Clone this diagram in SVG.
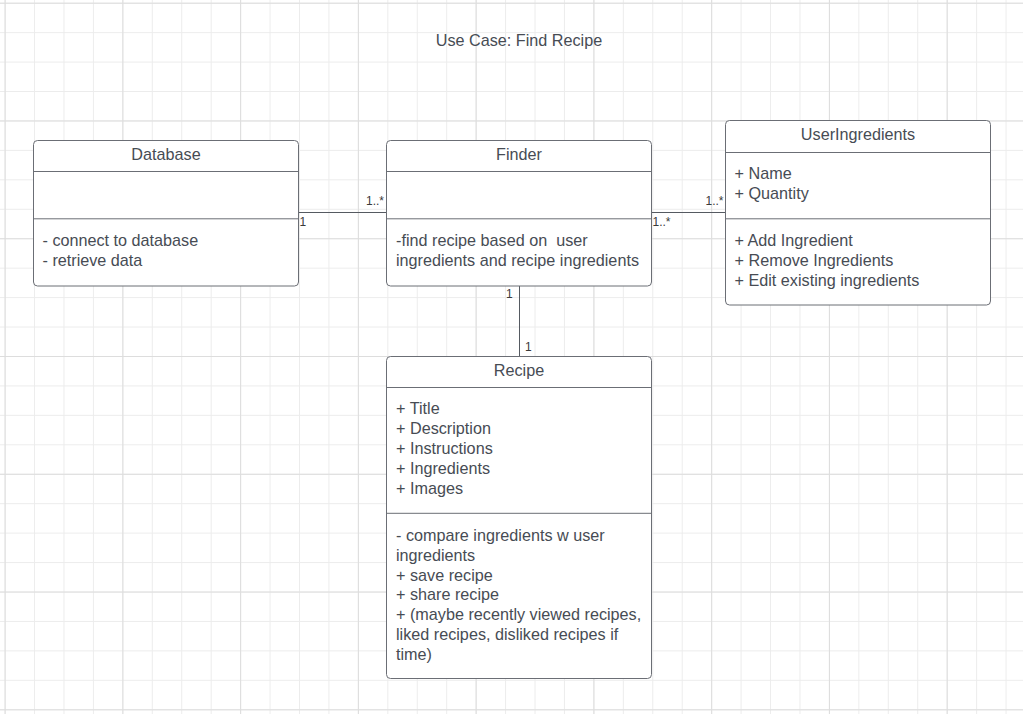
<svg xmlns="http://www.w3.org/2000/svg" width="1023" height="714" viewBox="0 0 1023 714">
<defs>
<pattern id="minor" x="4.6" y="2.7" width="29.44" height="29.44" patternUnits="userSpaceOnUse">
<path d="M0.5 0V29.44M0 0.5H29.44" fill="none" stroke="#ececec" stroke-width="1"/>
</pattern>
<pattern id="major" x="4.6" y="2.7" width="117.76" height="117.77" patternUnits="userSpaceOnUse">
<path d="M0.5 0V117.77M0 0.5H117.76" fill="none" stroke="#dddddd" stroke-width="1"/>
</pattern>
<style>
.box{fill:#ffffff;stroke:#6b6e75;stroke-width:1}
.div{stroke:#6b6e75;stroke-width:1}
.t{font-family:"Liberation Sans",Arial,sans-serif;font-size:16.2px;fill:#474c54}
.c{text-anchor:middle}
.lbl{font-family:"Liberation Sans",Arial,sans-serif;font-size:12px;fill:#3a3a3a}
.conn{stroke:#555a61;stroke-width:1;fill:none}
</style>
</defs>
<rect width="1023" height="714" fill="#ffffff"/>
<rect width="1023" height="714" fill="url(#minor)"/>
<rect width="1023" height="714" fill="url(#major)"/>
<text class="t c" x="519" y="46">Use Case: Find Recipe</text>
<g id="connectors">
<line class="conn" x1="298.5" y1="212.5" x2="386.5" y2="212.5"/>
<line class="conn" x1="651.5" y1="212.5" x2="725.5" y2="212.5"/>
<line class="conn" x1="519.5" y1="286" x2="519.5" y2="356.5"/>
<text class="lbl" x="299.5" y="225.5">1</text>
<text class="lbl" x="366" y="205">1..*</text>
<text class="lbl" x="652.5" y="225.5">1..*</text>
<text class="lbl" x="705.5" y="205">1..*</text>
<text class="lbl" x="506" y="297.5">1</text>
<text class="lbl" x="525" y="350.5">1</text>
</g>
<g id="database">
<rect class="box" x="33.5" y="140.5" width="265" height="145.5" rx="4"/>
<line class="div" x1="33.5" y1="171.5" x2="298.5" y2="171.5"/>
<line class="div" x1="33.5" y1="218.8" x2="298.5" y2="218.8"/>
<text class="t c" x="166" y="159.5">Database</text>
<text class="t" x="42.5" y="246">- connect to database</text>
<text class="t" x="42.5" y="266">- retrieve data</text>
</g>
<g id="finder">
<rect class="box" x="386.5" y="140.5" width="265" height="145.5" rx="4"/>
<line class="div" x1="386.5" y1="171.5" x2="651.5" y2="171.5"/>
<line class="div" x1="386.5" y1="218.8" x2="651.5" y2="218.8"/>
<text class="t c" x="519" y="159.5">Finder</text>
<text class="t" x="396" y="246" xml:space="preserve">-find recipe based on  user</text>
<text class="t" x="396" y="266">ingredients and recipe ingredients</text>
</g>
<g id="useringredients">
<rect class="box" x="725.5" y="120.5" width="265" height="184.5" rx="4"/>
<line class="div" x1="725.5" y1="152.5" x2="990.5" y2="152.5"/>
<line class="div" x1="725.5" y1="218.8" x2="990.5" y2="218.8"/>
<text class="t c" x="858" y="140">UserIngredients</text>
<text class="t" x="734.5" y="179">+ Name</text>
<text class="t" x="734.5" y="199">+ Quantity</text>
<text class="t" x="734.5" y="246">+ Add Ingredient</text>
<text class="t" x="734.5" y="266">+ Remove Ingredients</text>
<text class="t" x="734.5" y="286">+ Edit existing ingredients</text>
</g>
<g id="recipe">
<rect class="box" x="386.5" y="356.5" width="265" height="322" rx="4"/>
<line class="div" x1="386.5" y1="387.5" x2="651.5" y2="387.5"/>
<line class="div" x1="386.5" y1="513.3" x2="651.5" y2="513.3"/>
<text class="t c" x="519" y="376">Recipe</text>
<text class="t" x="396" y="414">+ Title</text>
<text class="t" x="396" y="434">+ Description</text>
<text class="t" x="396" y="454">+ Instructions</text>
<text class="t" x="396" y="474">+ Ingredients</text>
<text class="t" x="396" y="494">+ Images</text>
<text class="t" x="396" y="541">- compare ingredients w user</text>
<text class="t" x="396" y="561">ingredients</text>
<text class="t" x="396" y="580.5">+ save recipe</text>
<text class="t" x="396" y="600">+ share recipe</text>
<text class="t" x="396" y="620">+ (maybe recently viewed recipes,</text>
<text class="t" x="396" y="640">liked recipes, disliked recipes if</text>
<text class="t" x="396" y="659.5">time)</text>
</g>
</svg>
